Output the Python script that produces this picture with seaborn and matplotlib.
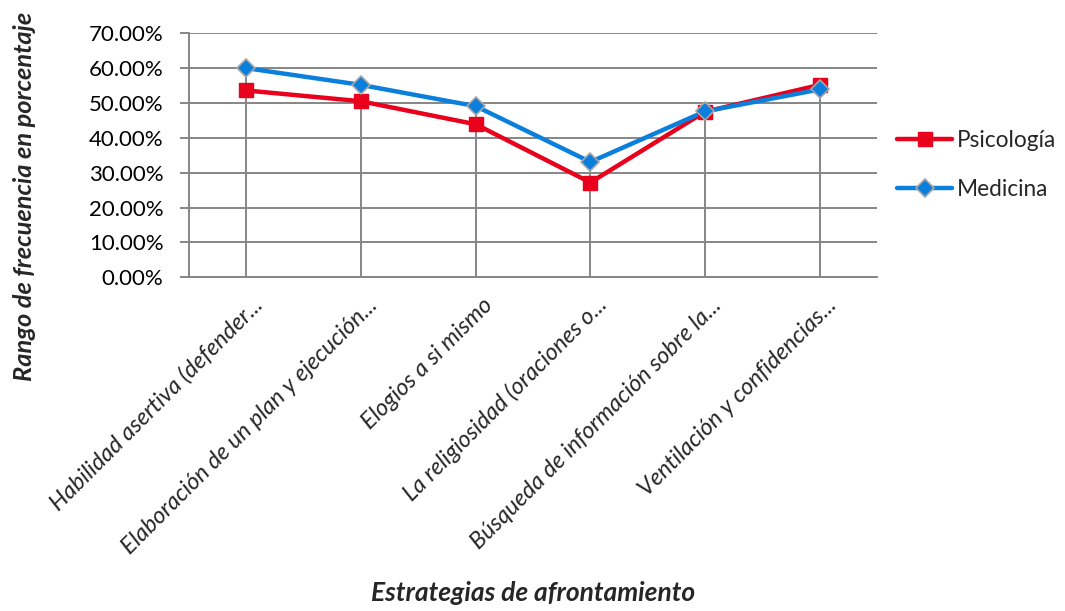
import numpy as np
import pandas as pd
import seaborn as sns
import matplotlib
matplotlib.use("Agg")
import matplotlib.pyplot as plt
from matplotlib.ticker import PercentFormatter
from matplotlib.transforms import ScaledTranslation
from matplotlib.lines import Line2D

categories = [
    "Habilidad asertiva (defender...",
    "Elaboración de un plan y ejecución...",
    "Elogios a si mismo",
    "La religiosidad (oraciones o...",
    "Búsqueda de información sobre la...",
    "Ventilación y confidencias...",
]
psicologia = [53.6, 50.5, 43.9, 27.2, 47.5, 55.2]
medicina = [60.0, 55.2, 49.1, 33.1, 47.6, 53.9]
series_names = ["Psicología", "Medicina"]
colors = {"Psicología": "#E8001C", "Medicina": "#0A7FDC"}

sns.set_theme(style="white")
plt.rcParams["font.family"] = ["Lato", "DejaVu Sans"]

df = pd.DataFrame({
    "pos": list(range(len(categories))) * 2,
    "valor": psicologia + medicina,
    "serie": [series_names[0]] * len(categories) + [series_names[1]] * len(categories),
})

fig = plt.figure(figsize=(10.65, 6.11), dpi=100)
ax = fig.add_axes([0.1775, 0.5461, 0.8235 - 0.1775, 0.9455 - 0.5461])

grid_c = "#868686"
ax.set_ylim(0, 70)
ax.set_xlim(-0.5, len(categories) - 0.5)
ax.set_yticks(np.arange(0, 71, 10))
ax.yaxis.grid(True, color=grid_c, linewidth=1.4)
ax.set_axisbelow(True)

# drop lines from the axis up to the higher of the two series
tops = np.maximum(psicologia, medicina)
ax.vlines(range(len(categories)), 0, tops, color=grid_c, linewidth=1.4, zorder=1)

sns.lineplot(data=df, x="pos", y="valor", hue="serie", palette=colors,
             sort=False, linewidth=3.2, legend=False, ax=ax, zorder=3)

ax.plot(range(len(categories)), psicologia, linestyle="none", marker="s",
        markersize=10, color=colors["Psicología"], zorder=4)
ax.plot(range(len(categories)), medicina, linestyle="none", marker="D",
        markersize=9, color=colors["Medicina"], markeredgecolor="#A6A6A6",
        markeredgewidth=1.2, zorder=5)

for side in ["top", "right"]:
    ax.spines[side].set_visible(False)
for side in ["left", "bottom"]:
    ax.spines[side].set_color(grid_c)
    ax.spines[side].set_linewidth(1.4)

ax.yaxis.set_major_formatter(PercentFormatter(decimals=2))
ax.tick_params(axis="y", labelsize=16, colors=grid_c, labelcolor="black",
               direction="out", length=6.5, width=1.4, pad=12, left=True)
ax.tick_params(axis="x", length=0, pad=0)
ax.set_xticks(range(len(categories)))
ax.set_xticklabels(categories, rotation=45, ha="right", va="baseline",
                   rotation_mode="anchor", fontsize=16.8, style="italic")
offset = ScaledTranslation(18 / 100, -29 / 100, fig.dpi_scale_trans)
for lbl in ax.get_xticklabels():
    lbl.set_transform(lbl.get_transform() + offset)
ax.set_xlabel("")
ax.set_ylabel("")

fig.text(533 / 1065, 1 - 593 / 611, "Estrategias de afrontamiento",
         ha="center", va="center", fontsize=19, fontweight="bold", style="italic")
fig.text(25 / 1065, 1 - 196 / 611, "Rango de frecuencia en porcentaje",
         ha="center", va="center", rotation=90, fontsize=18.3,
         fontweight="bold", style="italic")

handles = [
    Line2D([], [], color=colors["Psicología"], linewidth=3.2, marker="s", markersize=10),
    Line2D([], [], color=colors["Medicina"], linewidth=3.2, marker="D", markersize=9,
           markeredgecolor="#A6A6A6", markeredgewidth=1.2),
]
fig.legend(handles, series_names, loc="upper left",
           bbox_to_anchor=(897 / 1065, 1 - 130 / 611), frameon=False,
           fontsize=16.3, handlelength=2.43, handletextpad=0.22,
           labelspacing=1.25, borderaxespad=0, borderpad=0)

fig.savefig("out.png", dpi=100)
